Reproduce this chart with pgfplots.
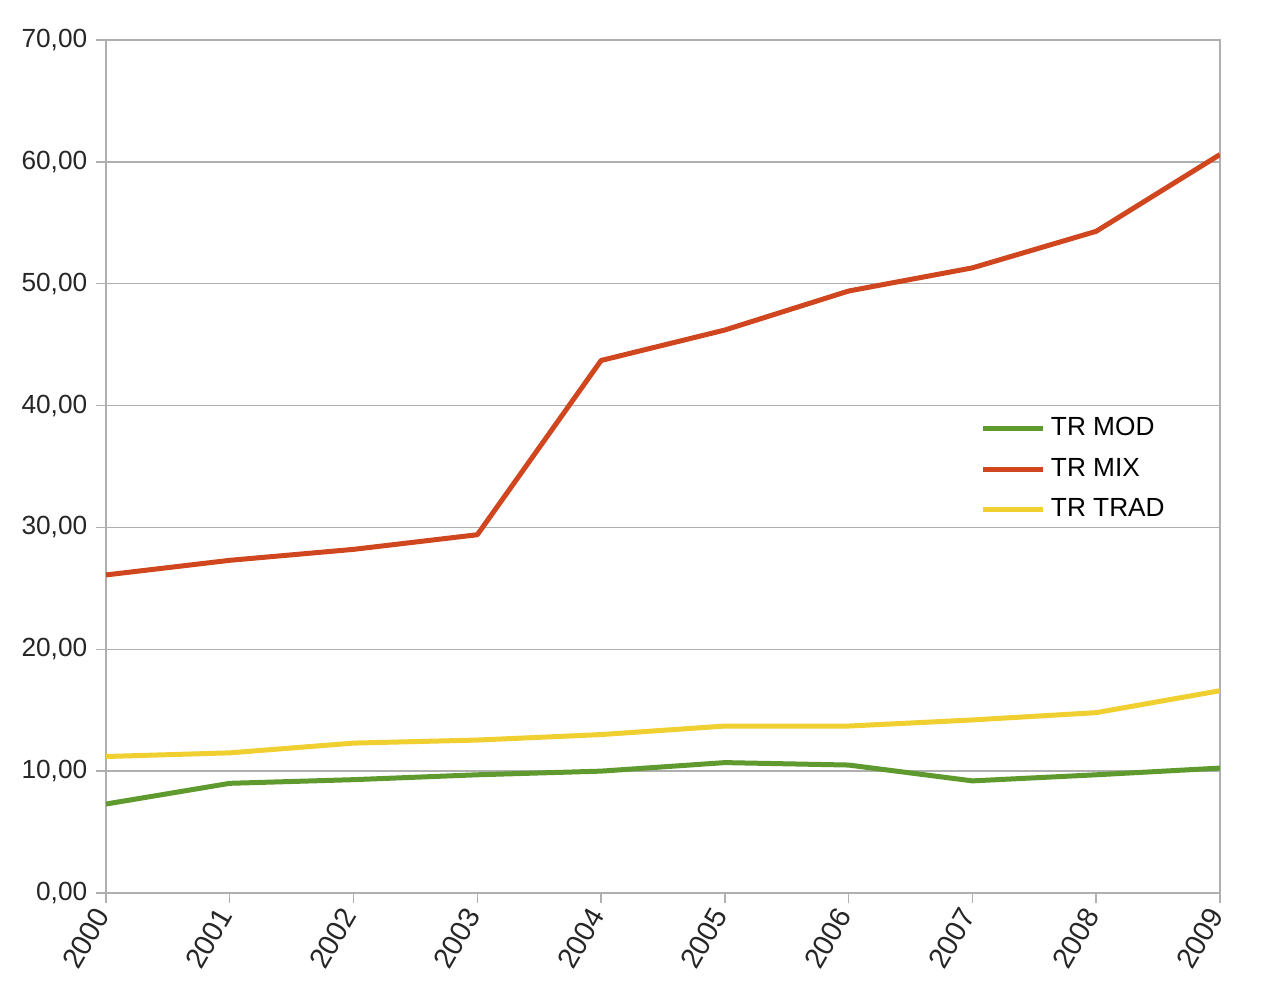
\documentclass[border=0pt]{standalone}
\usepackage{pgfplots}
\pgfplotsset{compat=1.18}
\usepackage{fontspec}
\setmainfont{Liberation Sans}
\definecolor{cmod}{RGB}{94,154,46}
\definecolor{cmix}{RGB}{208,70,30}
\definecolor{ctrad}{RGB}{240,208,48}
\definecolor{gridc}{RGB}{175,175,175}
\begin{document}
\begin{tikzpicture}
\useasboundingbox (-42.4pt,-41.2pt) rectangle (464pt,357.2pt);
\begin{axis}[
  scale only axis,
  width=445.6pt, height=341.2pt,
  xmin=2000, xmax=2009, ymin=0, ymax=70,
  xtick={2000,...,2009},
  ytick={0,10,...,70},
  axis line style={gridc, line width=0.6pt},
  ymajorgrids, grid style={gridc, line width=0.6pt},
  tick style={gridc, line width=0.6pt},
  tick align=outside, major tick length=4pt,
  xtick pos=bottom, ytick pos=left,
  tick label style={font=\fontsize{10.5}{12}\selectfont, color=black!85},
  /pgf/number format/assume math mode=true,
  x tick label style={rotate=60, anchor=east, font=\fontsize{11.5}{13}\selectfont, /pgf/number format/1000 sep={}},
  y tick label style={/pgf/number format/.cd, fixed, fixed zerofill, precision=2, use comma},
  legend style={draw=none, fill=none, at={(0.785,0.497)}, anchor=west,
    font=\fontsize{10.5}{12.5}\selectfont, row sep=3.5pt, inner sep=0pt},
  legend cell align=left,
  legend image code/.code={\draw[#1] (0pt,0pt) -- (24pt,0pt);},
  every axis plot/.append style={line width=2pt, line join=round},
]
\addplot[cmod] coordinates {(2000,7.3) (2001,9.0) (2002,9.3) (2003,9.7) (2004,10.0) (2005,10.7) (2006,10.5) (2007,9.2) (2008,9.7) (2009,10.25)};
\addlegendentry{TR MOD}
\addplot[cmix] coordinates {(2000,26.1) (2001,27.3) (2002,28.2) (2003,29.4) (2004,43.7) (2005,46.2) (2006,49.4) (2007,51.3) (2008,54.3) (2009,60.6)};
\addlegendentry{TR MIX}
\addplot[ctrad] coordinates {(2000,11.2) (2001,11.5) (2002,12.3) (2003,12.55) (2004,13.0) (2005,13.7) (2006,13.7) (2007,14.2) (2008,14.8) (2009,16.6)};
\addlegendentry{TR TRAD}
\end{axis}
\end{tikzpicture}
\end{document}
